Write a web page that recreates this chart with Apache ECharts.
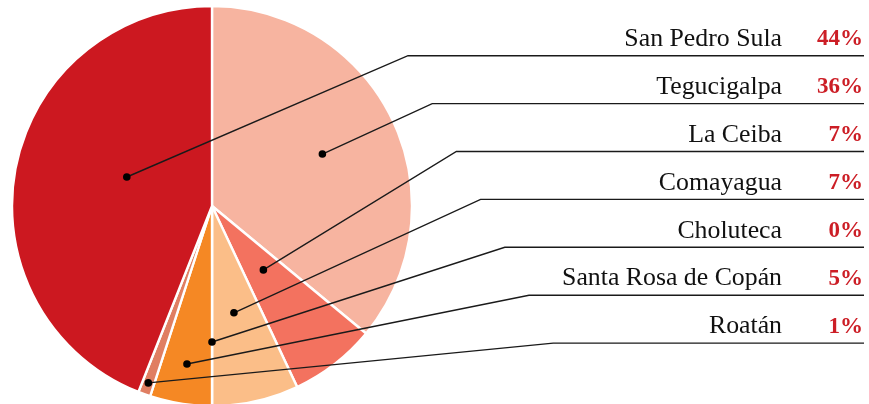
<!DOCTYPE html>
<html>
<head>
<meta charset="utf-8">
<style>
  html, body { margin: 0; padding: 0; background: #ffffff; }
  #chart { width: 869px; height: 404px; }
</style>
<script src="https://cdn.jsdelivr.net/npm/echarts@6/dist/echarts.min.js"></script>
</head>
<body>
<div id="chart"></div>
<script>
// Slices in drawing order (clockwise from 12 o'clock)
const cities = ['Tegucigalpa', 'La Ceiba', 'Comayagua', 'Choluteca', 'Santa Rosa de Copán', 'Roatán', 'San Pedro Sula'];
const shares = [36, 7, 7, 0, 5, 1, 44];
// Order of the label rows on the right
const rowOrder = ['San Pedro Sula', 'Tegucigalpa', 'La Ceiba', 'Comayagua', 'Choluteca', 'Santa Rosa de Copán', 'Roatán'];

// Styling
const sliceColors = ['#F7B4A0', '#F3725F', '#FBBE88', '#F9A870', '#F58824', '#E07E62', '#CC1820'];
// Where each leader line starts inside its slice: fraction of radius, angle shift in degrees
const anchorFrac = [0.61, 0.41, 0.545, 0.68, 0.80, 0.94, 0.45];
const anchorShift = [0, -1, 1, 0, 0, 0, 8];

const CX = 212, CY = 206, R = 200;
const ROW_Y0 = 55.7, ROW_STEP = 47.9;
const ELBOW_X0 = 408, ELBOW_STEP = 24.2;
const LINE_END = 864;
const NAME_RIGHT = 782, PCT_RIGHT = 863;

const total = shares.reduce((a, b) => a + b, 0);
const midAngles = [];
let acc = 0;
shares.forEach(v => { midAngles.push((acc + v / 2) / total * 360); acc += v; });

const chart = echarts.init(document.getElementById('chart'), null, { renderer: 'canvas' });

chart.setOption({
  animation: false,
  series: [
    {
      type: 'pie',
      center: [CX, CY],
      radius: [0, R],
      startAngle: 90,
      clockwise: true,
      minAngle: 0,
      stillShowZeroSum: true,
      avoidLabelOverlap: false,
      label: { show: false },
      labelLine: { show: false },
      emphasis: { disabled: true },
      itemStyle: { borderColor: '#ffffff', borderWidth: 2.4 },
      data: cities.map((n, i) => ({ name: n, value: shares[i], itemStyle: { color: sliceColors[i] } }))
    },
    {
      type: 'custom',
      coordinateSystem: 'none',
      silent: true,
      z: 10,
      data: rowOrder.map((n, k) => k),
      renderItem: function (params) {
        const k = params.dataIndex;
        const i = cities.indexOf(rowOrder[k]);
        const ang = (midAngles[i] + anchorShift[i]) * Math.PI / 180;
        const ax = CX + anchorFrac[i] * R * Math.sin(ang);
        const ay = CY - anchorFrac[i] * R * Math.cos(ang);
        const ly = ROW_Y0 + ROW_STEP * k;
        const ex = ELBOW_X0 + ELBOW_STEP * k;
        return {
          type: 'group',
          children: [
            {
              type: 'polyline',
              shape: { points: [[ax, ay], [ex, ly], [LINE_END, ly]] },
              style: { stroke: '#1a1a1a', lineWidth: 1.4, fill: null }
            },
            {
              type: 'circle',
              shape: { cx: ax, cy: ay, r: 3.8 },
              style: { fill: '#000000' }
            },
            {
              type: 'text',
              style: {
                text: rowOrder[k], x: NAME_RIGHT, y: ly - 16.5,
                align: 'right', verticalAlign: 'middle',
                font: '25.8px "Liberation Serif", serif', fill: '#111111'
              }
            },
            {
              type: 'text',
              style: {
                text: shares[i] + '%', x: PCT_RIGHT, y: ly - 16.5,
                align: 'right', verticalAlign: 'middle',
                font: 'bold 23px "Liberation Serif", serif', fill: '#CC1E26'
              }
            }
          ]
        };
      }
    }
  ]
});
</script>
</body>
</html>
